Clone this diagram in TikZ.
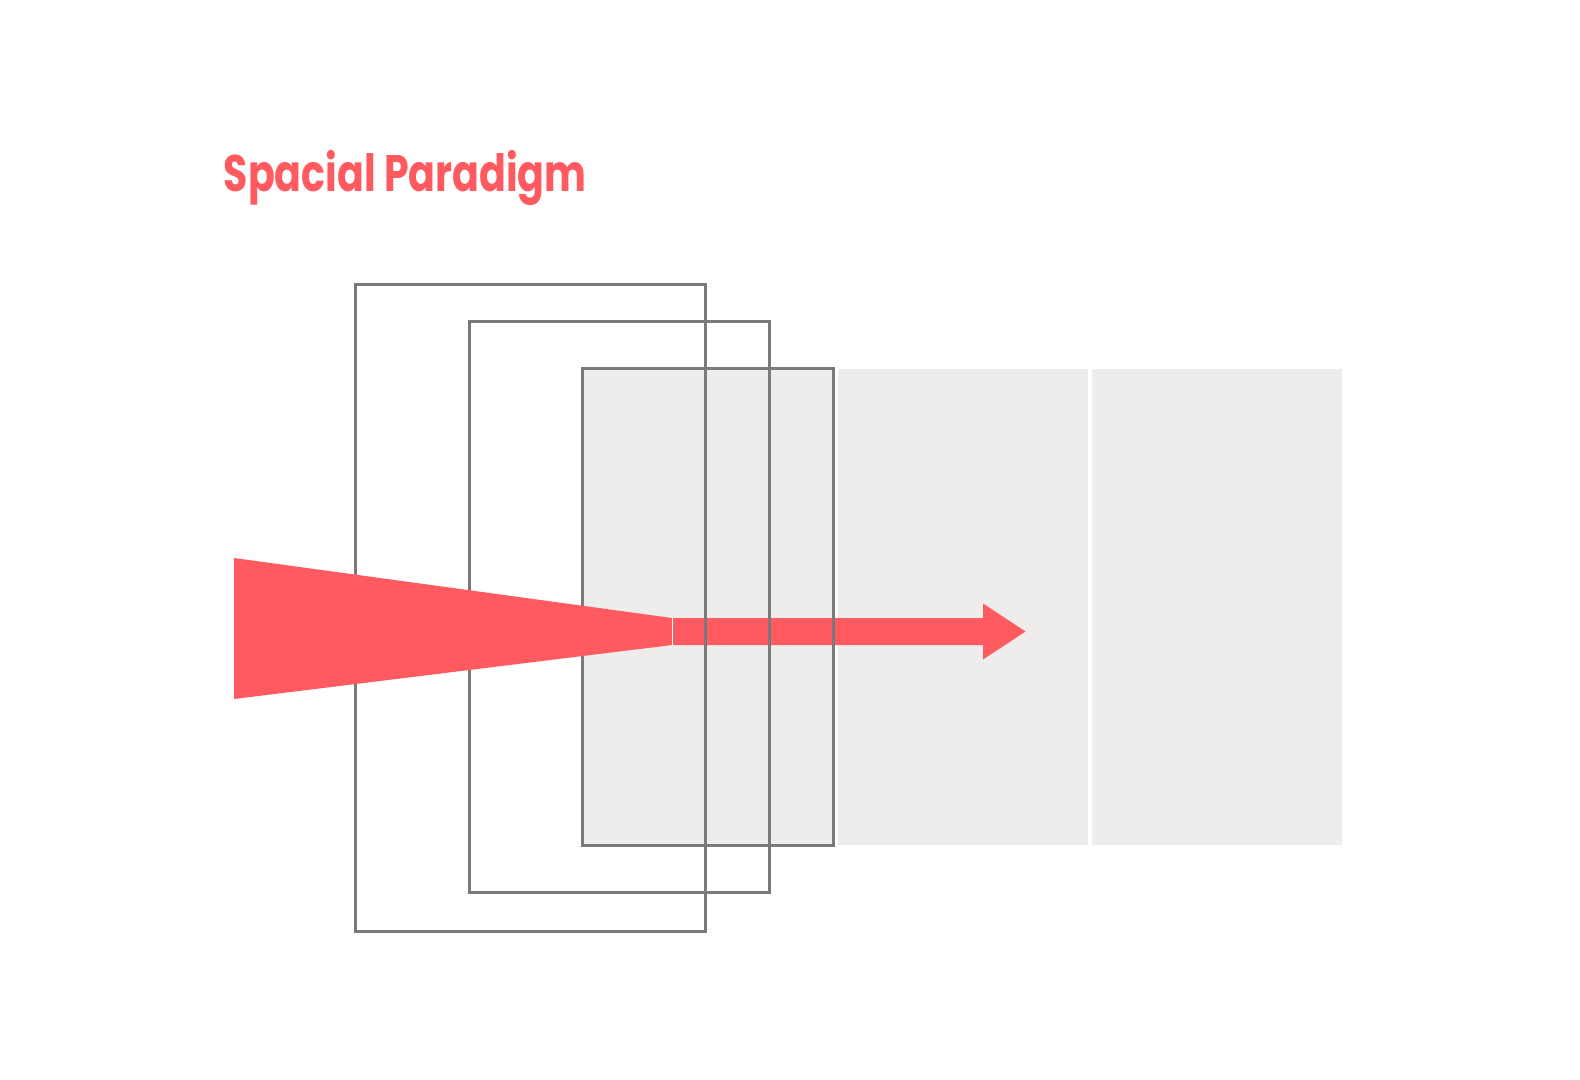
\documentclass[tikz,border=0pt]{standalone}
\usepackage{fontspec}
\newfontfamily\titlefont[FakeStretch=0.77]{Poppins}

\definecolor{coral}{HTML}{FF5A5F}
\definecolor{framegray}{HTML}{7A7A7A}
\definecolor{panelgray}{HTML}{EEEDEB}

\tikzset{
  frame/.style={draw=framegray, line width=0.03cm},
  panel/.style={fill=panelgray},
}

\begin{document}
\begin{tikzpicture}[x=0.01cm, y=-0.01cm]
\useasboundingbox (0,0) rectangle (1580,1080);

\node[anchor=base west, inner sep=0, text=coral,
      font=\titlefont\bfseries\fontsize{14.6}{17}\selectfont] (title) at (223,192) {Spacial Paradigm};

% grey panels
\fill[panel] (582,369) rectangle (833,845);
\fill[panel] (838,369) rectangle (1088,845);
\fill[panel] (1092,369) rectangle (1342,845);

% shaft and head
\fill[coral] (673,618) -- (983,618) -- (983,603.5) -- (1025.5,631.5)
    -- (983,659.5) -- (983,645) -- (673,645) -- cycle;

% frames
\draw[frame] (355,285) rectangle (705,931);
\draw[frame] (469,322) rectangle (769,892);
\draw[frame] (582,369) rectangle (833,845);

% wedge
\fill[coral] (234,558) -- (672,618) -- (672,645) -- (234,699) -- cycle;
\draw[white, line width=0.012cm] (672.4,618) -- (672.4,645);

\end{tikzpicture}
\end{document}
